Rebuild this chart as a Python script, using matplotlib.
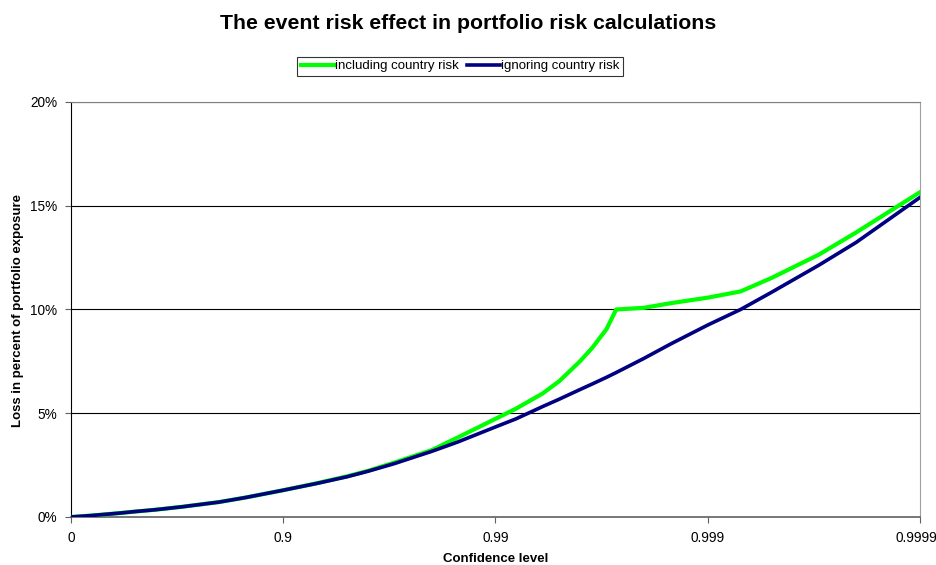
import numpy as np
import matplotlib
matplotlib.use("Agg")
import matplotlib.pyplot as plt
import matplotlib.transforms as mtransforms
from matplotlib.ticker import FixedLocator, FixedFormatter

plt.rcParams['font.family'] = ['Liberation Sans', 'DejaVu Sans']

# confidence levels and losses (fraction of portfolio exposure)
confidence = [0, 0.2, 0.4, 0.5, 0.6, 0.7, 0.8, 0.85, 0.9, 0.93, 0.95, 0.96,
              0.97, 0.98, 0.985, 0.99, 0.992, 0.994, 0.995, 0.996, 0.9965,
              0.997, 0.9973, 0.998, 0.9985, 0.999, 0.9993, 0.9995, 0.9997,
              0.9998, 0.9999]
loss_including = [0.0, 0.0007, 0.0018, 0.0026, 0.0035, 0.0049, 0.0072, 0.0094,
                  0.0129, 0.0162, 0.0196, 0.0222, 0.0262, 0.0322, 0.0384,
                  0.0473, 0.0522, 0.0595, 0.0655, 0.0750, 0.0815, 0.0905,
                  0.1000, 0.1008, 0.1030, 0.1057, 0.1087, 0.1152, 0.1264,
                  0.1371, 0.1565]
loss_ignoring = [0.0, 0.0007, 0.0018, 0.0026, 0.0035, 0.0049, 0.0072, 0.0094,
                 0.0129, 0.0161, 0.0194, 0.0220, 0.0257, 0.0316, 0.0362,
                 0.0434, 0.0473, 0.0532, 0.0568, 0.0614, 0.0641, 0.0673,
                 0.0696, 0.0764, 0.0833, 0.0925, 0.1000, 0.1083, 0.1213,
                 0.1323, 0.1540]

tick_conf = [0, 0.9, 0.99, 0.999, 0.9999]
tick_labels = ["0", "0.9", "0.99", "0.999", "0.9999"]
y_ticks = [0, 0.05, 0.10, 0.15, 0.20]
y_labels = ["0%", "5%", "10%", "15%", "20%"]


def fwd(c):
    c = np.asarray(c, dtype=float)
    return -np.log10(np.clip(1 - c, 1e-12, None))


def inv(p):
    return 1 - 10 ** (-np.asarray(p, dtype=float))


fig = plt.figure(figsize=(9.37, 5.65), dpi=100)
ax = fig.add_axes([0.0758, 0.085, 0.906, 0.7345])
ax.set_xscale('function', functions=(fwd, inv))

ax.plot(confidence, loss_including, color="#00FF00", lw=3.0,
        solid_joinstyle="round", label="including country risk", zorder=3)
ax.plot(confidence, loss_ignoring, color="#000080", lw=2.6,
        solid_joinstyle="round", label="ignoring country risk", zorder=4)

ax.set_xlim(0, 0.9999)
ax.set_ylim(0, 0.20)
ax.xaxis.set_major_locator(FixedLocator(tick_conf))
ax.xaxis.set_major_formatter(FixedFormatter(tick_labels))
ax.xaxis.set_minor_locator(FixedLocator([]))
ax.set_yticks(y_ticks)
ax.set_yticklabels(y_labels)
ax.tick_params(axis='both', labelsize=9.8, length=4, color="#606060", pad=6)

for y in y_ticks[1:]:
    ax.axhline(y, color="black", lw=0.8, zorder=1)

ax.spines['left'].set_color("black")
ax.spines['bottom'].set_color("#606060")
ax.spines['bottom'].set_linewidth(1.2)
ax.spines['right'].set_color("#a0a0a0")
ax.spines['top'].set_color("#808080")

ax.set_xlabel("Confidence level", fontsize=9.5, fontweight="bold", labelpad=6)
fig.text(0.019, 0.451, "Loss in percent of portfolio exposure", rotation=90,
         fontsize=9.5, fontweight="bold", ha="center", va="center")
fig.suptitle("The event risk effect in portfolio risk calculations",
             fontsize=15.3, fontweight="bold", y=0.975)

leg = fig.legend(loc="center", bbox_to_anchor=(0.491, 0.883), ncol=2,
                 fontsize=9.5, frameon=True, fancybox=False, edgecolor="black",
                 handlelength=2.5, handletextpad=0.1, columnspacing=0.6,
                 borderpad=0.25, borderaxespad=0)
leg.get_frame().set_linewidth(0.8)

# nudge the last x label so it stays inside the canvas
fig.canvas.draw()
for tick in ax.xaxis.get_major_ticks()[-1:]:
    lbl = tick.label1
    lbl.set_transform(lbl.get_transform() +
                      mtransforms.ScaledTranslation(-4 / 100, 0, fig.dpi_scale_trans))

fig.savefig("out.png", dpi=100)
